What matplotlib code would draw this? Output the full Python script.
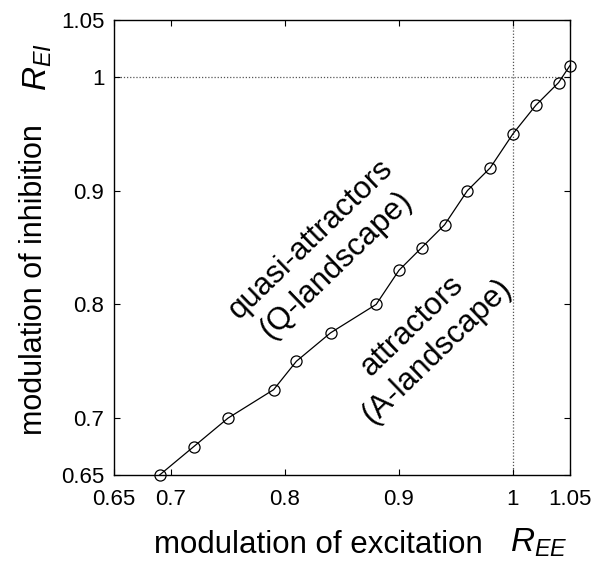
import matplotlib
matplotlib.use("Agg")
import matplotlib.pyplot as plt

# ── Data ──────────────────────────────────────────────────────────────────────
r_ee = [0.69, 0.72, 0.75, 0.79, 0.81, 0.84, 0.88, 0.90,
        0.92, 0.94, 0.96, 0.98, 1.00, 1.02, 1.04, 1.05]
r_ei = [0.65, 0.675, 0.70, 0.725, 0.75, 0.775, 0.80, 0.83,
        0.85, 0.87, 0.90, 0.92, 0.95, 0.975, 0.995, 1.01]

ticks = [0.65, 0.7, 0.8, 0.9, 1.0, 1.05]
tick_labels = ["0.65", "0.7", "0.8", "0.9", "1", "1.05"]

plt.rcParams["font.family"] = ["Liberation Sans", "DejaVu Sans"]
plt.rcParams["mathtext.fontset"] = "custom"
plt.rcParams["mathtext.rm"] = "Liberation Sans"
plt.rcParams["mathtext.it"] = "Liberation Sans:italic"

W, H = 608, 565
fig = plt.figure(figsize=(W / 100, H / 100), dpi=100)
ax = fig.add_axes([114 / W, 1 - 475 / H, 456 / W, 455 / H])

# reference lines at 1
ax.axhline(1.0, color="#555555", lw=0.9, ls=(0, (1, 1.5)), zorder=1)
ax.axvline(1.0, color="#555555", lw=0.9, ls=(0, (1, 1.5)), zorder=1)

ax.plot(r_ee, r_ei, color="black", lw=0.9, marker="o", ms=8,
        mfc="none", mec="black", mew=0.9, clip_on=False, zorder=3)

ax.set_xlim(0.65, 1.05)
ax.set_ylim(0.65, 1.05)
ax.set_xticks(ticks)
ax.set_xticklabels(tick_labels)
ax.set_yticks(ticks)
ax.set_yticklabels(tick_labels)
ax.tick_params(direction="in", length=4, width=0.8, top=True, right=True,
               labelsize=16)
ax.tick_params(axis="x", pad=10)
ax.tick_params(axis="y", pad=7)
for s in ax.spines.values():
    s.set_linewidth(1.0)

# region labels
ax.text(0.834, 0.846, "quasi-attractors\n(Q-landscape)", rotation=44,
        fontsize=22.5, ha="center", va="center", linespacing=1.25,
        rotation_mode="anchor")
ax.text(0.922, 0.770, "attractors\n(A-landscape)", rotation=44,
        fontsize=22.5, ha="center", va="center", linespacing=1.25,
        rotation_mode="anchor")

# axis labels
fig.text(318 / W, 1 - 553 / H, "modulation of excitation", fontsize=22.5,
         ha="center", va="baseline")
fig.text(510 / W, 1 - 552 / H, "$R_{EE}$", fontsize=24,
         ha="left", va="baseline")
fig.text(34 / W, 1 - 280 / H, "modulation of inhibition", fontsize=22,
         ha="center", va="center", rotation=90)
fig.text(38 / W, 1 - 67 / H, "$R_{EI}$", fontsize=24,
         ha="center", va="center", rotation=90)

fig.savefig("out.png", dpi=100)
